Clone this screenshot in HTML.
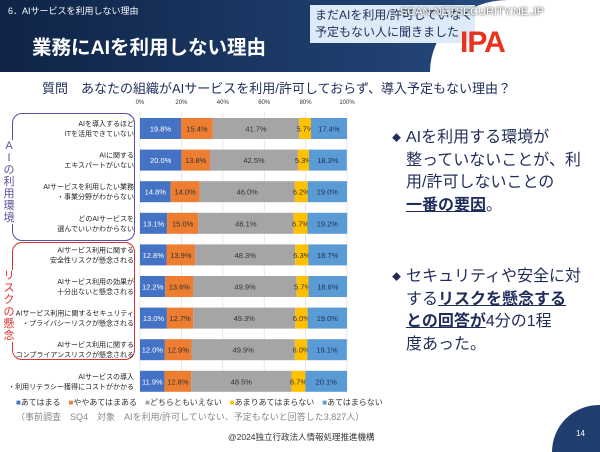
<!DOCTYPE html>
<html><head><meta charset="utf-8"><style>
body{margin:0;width:600px;height:452px;overflow:hidden;background:#fff;font-family:"Liberation Sans","Noto Sans CJK JP",sans-serif;position:relative}
#wrap{position:absolute;left:0;top:0;width:600px;height:452px;overflow:hidden}
.abs{position:absolute}
</style></head><body><div id="wrap">
<div class="abs" style="left:0;top:0;width:600px;height:72px;background:linear-gradient(90deg,#0f2446,#1f3e6e 60%,#2a5288)"></div>
<div class="abs" style="left:430px;top:0;width:170px;height:72px;background:#fff;border-top-left-radius:130px 120px"></div>
<div class="abs" style="left:8px;top:4px;color:#fff;font-size:9px">6．AIサービスを利用しない理由</div>
<div class="abs" style="left:32px;top:31px;color:#fff;font-size:19.5px;font-weight:bold">業務にAIを利用しない理由</div>
<div class="abs" style="left:310px;top:5px;width:165px;height:38px;background:#dcebf7;color:#1f2d5a;font-size:12px;line-height:17px;padding:2px 5px;box-sizing:border-box;white-space:nowrap">まだAIを利用/許可していなく<br>予定もない人に聞きました</div>
<div class="abs" style="left:400px;top:6px;color:#fff;font-size:11px;text-shadow:0 0 2px #000">SCAN.NETSECURITY.NE.JP</div>
<div class="abs" style="left:460px;top:26px;color:#e8341c;font-size:30px;font-weight:bold;letter-spacing:-1px">IPA</div>
<div class="abs" style="left:42px;top:78px;color:#1f2d5a;font-size:13px">質問　あなたの組織がAIサービスを利用/許可しておらず、導入予定もない理由？</div>

<div class="abs" style="left:12px;top:113px;width:123px;height:128px;border:1.5px solid #5a4fa0;border-radius:10px;box-sizing:border-box"></div>
<div class="abs" style="left:3px;top:140px;width:12px;background:#fff;color:#5a4fa0;font-size:11px;line-height:12px;text-align:center">A<br>I<br>の<br>利<br>用<br>環<br>境</div>
<div class="abs" style="left:12px;top:242px;width:123px;height:118px;border:1.5px solid #d93030;border-radius:10px;box-sizing:border-box"></div>
<div class="abs" style="left:3px;top:270px;width:12px;background:#fff;color:#d93030;font-size:11px;line-height:12px;text-align:center">リ<br>ス<br>ク<br>の<br>懸<br>念</div>

<svg class="abs" style="left:0;top:0" width="600" height="452" id="chart"></svg>

<div class="abs" style="left:16px;top:397px;font-size:8px;color:#333;white-space:nowrap">
<span style="color:#4472c4">■</span>あてはまる　<span style="color:#ed7d31">■</span>ややあてはまある　<span style="color:#a5a5a5">■</span>どちらともいえない　<span style="color:#ffc000">■</span>あまりあてはまらない　<span style="color:#5b9bd5">■</span>あてはまらない</div>
<div class="abs" style="left:16px;top:410px;font-size:9px;color:#888">（事前調査　SQ4　対象　AIを利用/許可していない、予定もないと回答した3,827人）</div>
<div class="abs" style="left:228px;top:431px;font-size:8.5px;color:#333">@2024独立行政法人情報処理推進機構</div>
<div class="abs" style="left:552px;top:405px;width:48px;height:47px;border-top-left-radius:55px 55px;background:#1f3e6e"></div>
<div class="abs" style="left:576px;top:429px;font-size:8px;color:#fff">14</div>

<div class="abs" style="left:406px;top:127px;width:190px;font-size:16px;line-height:22.5px;color:#1f2d5a">
<span style="position:absolute;left:-14px;font-size:9px">◆</span>AIを利用する環境が<br>整っていないことが、利<br>用/許可しないことの<br><b><u>一番の要因</u></b>。</div>
<div class="abs" style="left:406px;top:266px;width:190px;font-size:16px;line-height:22.5px;color:#1f2d5a">
<span style="position:absolute;left:-14px;font-size:9px">◆</span>セキュリティや安全に対<br>する<b><u>リスクを懸念する</u></b><br><b><u>との回答が</u></b>4分の1程<br>度あった。</div>
</div>
<script>
const labels1=["AIを導入するほど","AIに関する","AIサービスを利用したい業務","どのAIサービスを","AIサービス利用に関する","AIサービス利用の効果が","AIサービス利用に関するセキュリティ","AIサービス利用に関する","AIサービスの導入"];
const labels2=["ITを活用できていない","エキスパートがいない","・事業分野がわからない","選んでいいかわからない","安全性リスクが懸念される","十分出ないと懸念される","・プライバシーリスクが懸念される","コンプライアンスリスクが懸念される","・利用リテラシー獲得にコストがかかる"];
const s1=[19.8,20.0,14.8,13.1,12.8,12.2,13.0,12.0,11.9];
const s2=[15.4,13.8,14.0,15.0,13.9,13.6,12.7,12.9,12.8];
const s3=[41.7,42.5,46.0,46.1,48.3,49.9,49.3,49.9,48.5];
const s4=[5.7,5.3,6.2,6.7,6.3,5.7,6.0,6.0,6.7];
const s5=[17.4,18.3,19.0,19.2,18.7,18.6,19.0,19.1,20.1];
const ticks=[0,20,40,60,80,100];
const NS="http://www.w3.org/2000/svg";
const svg=document.getElementById('chart');
const x0=140,x1=347;
const xs=v=>x0+(x1-x0)*v/100;
const ys=i=>118+i*31.6;
const bh=21;
function mk(t,a){const e=document.createElementNS(NS,t);for(const k in a)e.setAttribute(k,a[k]);svg.appendChild(e);return e;}
ticks.forEach(t=>{
 const g=mk('line',{x1:xs(t),x2:xs(t),y1:112,y2:393,stroke:'#ddd','stroke-width':0.7});
 
 
 const tx=mk('text',{x:xs(t),y:104,'font-size':6,'text-anchor':'middle',fill:'#333'});
 tx.textContent=t+'%';
 
 
});
const series=[s1,s2,s3,s4,s5];
const colors=['#4472c4','#ed7d31','#a5a5a5','#ffc000','#5b9bd5'];
const tcol=['#fff','#333','#333','#333','#1f2d5a'];
s1.forEach((_,i)=>{
 let acc=0;
 series.forEach((s,k)=>{
  const v=s[i];
  const r=mk('rect',{x:xs(acc),y:ys(i),width:xs(acc+v)-xs(acc),height:bh,fill:colors[k]});
  
  
  const t=mk('text',{x:(xs(acc)+xs(acc+v))/2,y:ys(i)+bh/2+3,'font-size':7.5,'text-anchor':'middle',fill:tcol[k]});
  t.textContent=v.toFixed(1)+'%';
  
  
  acc+=v;
 });
 const a=mk('text',{x:134,y:ys(i)+8,'font-size':7,'text-anchor':'end',fill:'#222'});
 a.textContent=labels1[i];
 
 
 const b=mk('text',{x:134,y:ys(i)+18,'font-size':7,'text-anchor':'end',fill:'#222'});
 b.textContent=labels2[i];
 
 
});
</script>
</body></html>
